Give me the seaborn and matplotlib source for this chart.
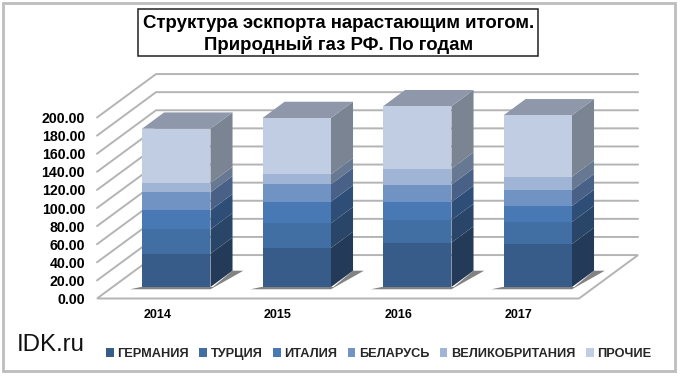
import numpy as np
import seaborn as sns
import matplotlib.pyplot as plt
from matplotlib.patches import Rectangle

sns.set_theme(style='white')
plt.rcParams['font.family'] = ['Liberation Sans', 'DejaVu Sans']

# Data
years = ['2014', '2015', '2016', '2017']
germany = [36.8, 43.1, 49.0, 47.5]
turkey = [26.9, 27.3, 25.0, 24.3]
italy = [21.0, 23.9, 19.9, 17.7]
belarus = [19.9, 19.2, 19.2, 17.3]
britain = [10.3, 11.0, 17.7, 15.1]
other = [60.0, 62.2, 68.9, 67.8]
series = [germany, turkey, italy, belarus, britain, other]
names = ['ГЕРМАНИЯ', 'ТУРЦИЯ', 'ИТАЛИЯ', 'БЕЛАРУСЬ', 'ВЕЛИКОБРИТАНИЯ', 'ПРОЧИЕ']
yticks = list(range(0, 201, 20))

front_colors = ['#375c8a', '#426fa3', '#4879b5', '#7093c4', '#a0b4d6', '#c1cde2']
side_colors = ['#243a59', '#294668', '#2e4e78', '#4a6187', '#667892', '#7b8492']
top_color = '#8f98aa'
grid_color = '#b4b4b4'

W, H = 680, 380
bar_width = 0.568
depth_x, depth_y = 0.49, 48       # walls, in data units
side_x, side_y = 0.183, 18        # bar depth, in data units


def px_axes(fig, left, right, top, bottom):
    return fig.add_axes([left / W, 1 - bottom / H, (right - left) / W, (bottom - top) / H])


fig = plt.figure(figsize=(W / 100, H / 100), dpi=100, facecolor='white')

# Step 1: outer frame and title box
fig.add_artist(Rectangle((3 / W, 1 - 371 / H), 672 / W, 368 / H, transform=fig.transFigure,
                         fill=False, edgecolor='#bdbdbd', linewidth=2))
fig.text(339 / W, 1 - 34.5 / H, 'Структура эскпорта нарастающим итогом.\nПриродный газ РФ. По годам',
         ha='center', va='center', fontsize=13.4, fontweight='bold', color='black', linespacing=1.3, zorder=5)
fig.add_artist(Rectangle((138 / W, 1 - 56 / H), 400 / W, 47 / H, transform=fig.transFigure,
                         fill=False, edgecolor='#222222', linewidth=1.1))
fig.text(17 / W, 1 - 345 / H, 'IDK.ru', ha='left', va='center', fontsize=17.3, color='#111111')

# Step 2: front plane axis with the walls
ax = px_axes(fig, 97, 579, 117.5, 298.5)
ax.set_xlim(-0.5, 3.5)
ax.set_ylim(0, 200)
ax.patch.set_alpha(0)
sns.despine(ax=ax, left=True, bottom=True, top=True, right=True)
x0, x1 = -0.5, 3.5
for v in yticks[1:]:
    ax.plot([x0, x0 + depth_x, x1 + depth_x], [v, v + depth_y, v + depth_y],
            color=grid_color, linewidth=1.4, clip_on=False, solid_joinstyle='miter')
ax.fill([x0, x1, x1 + depth_x, x0 + depth_x], [0, 0, depth_y, depth_y], facecolor='white',
        edgecolor=grid_color, linewidth=1.4, clip_on=False)
ax.set_xticks(range(len(years)))
ax.set_xticklabels(years, fontsize=9, fontweight='bold', color='black')
ax.set_yticks(yticks)
ax.set_yticklabels(['%.2f' % v for v in yticks], fontsize=10.2, fontweight='bold', color='black')
ax.tick_params(length=0, pad=8.6, axis='y')
ax.tick_params(length=0, pad=7.5, axis='x')

# Step 3: the stacked bars, on an axis shifted back into the box
bar_ax = px_axes(fig, 116, 598, 106, 287)
bar_ax.patch.set_alpha(0)
bottom = np.zeros(len(years))
for name, vals, color in zip(names, series, front_colors):
    sns.barplot(x=years, y=vals, bottom=bottom, color=color, saturation=1, width=bar_width,
                label=name, ax=bar_ax, legend=False, zorder=3, linewidth=0)
    bottom = bottom + np.array(vals)
bar_ax.set_xlim(-0.5, 3.5)
bar_ax.set_ylim(0, 200)
bar_ax.axis('off')

half = bar_width / 2
bottom = np.zeros(len(years))
for vals, color in zip(series, side_colors):
    for i, v in enumerate(vals):
        r = i + half
        low, high = bottom[i], bottom[i] + v
        bar_ax.fill([r, r + side_x, r + side_x, r], [low, low + side_y, high + side_y, high],
                    color=color, linewidth=0, clip_on=False, zorder=2)
    bottom = bottom + np.array(vals)
for i, total in enumerate(bottom):
    l, r = i - half, i + half
    bar_ax.fill([l, r, r + side_x, l + side_x], [total, total, total + side_y, total + side_y],
                color=top_color, linewidth=0, clip_on=False, zorder=2)
    # soft shadow on the floor
    bar_ax.fill([l - 0.1, r, r + side_x + 0.09, r + side_x, r + 0.02, l - 0.01],
                [-2.5, -2.5, 18, 18, 0, 0], color='#5a5a5a', alpha=0.75, linewidth=0,
                clip_on=False, zorder=1)

# Step 4: legend along the bottom
leg = bar_ax.legend(loc='center left', bbox_to_anchor=((106 - 116) / 482, (287 - 354) / 181), ncols=6,
                    frameon=False, handlelength=0.6, handleheight=0.6, handletextpad=0.3,
                    columnspacing=0.8, borderpad=0, borderaxespad=0,
                    prop={'size': 9.2, 'weight': 'bold'})

plt.savefig('out.png', dpi=100)
plt.close()
